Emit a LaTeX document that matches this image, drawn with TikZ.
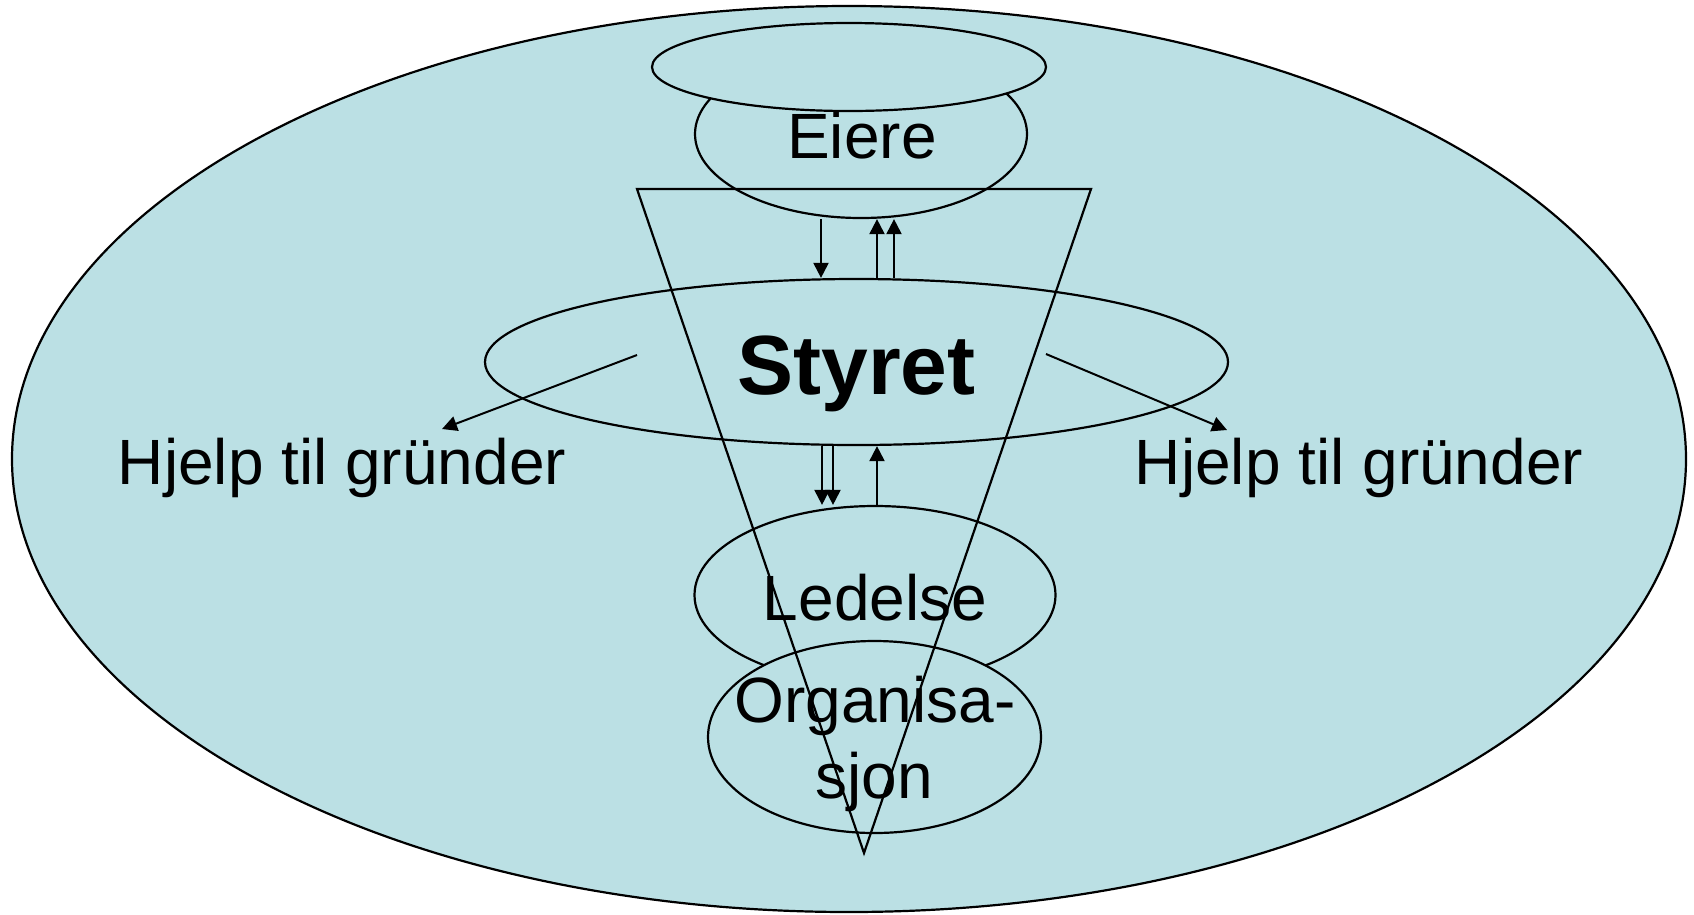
\documentclass[tikz,border=0pt]{standalone}
\usepackage{fontspec}
\setmainfont{Liberation Sans}
\usetikzlibrary{shapes.geometric,arrows.meta}
\definecolor{bluefill}{RGB}{187,224,228}
\tikzset{
  oval/.style={ellipse, draw=black, line width=2.2pt, fill=bluefill, inner sep=0pt},
  arr/.style={line width=2pt, -{Triangle[length=15pt,width=15pt]}},
  lbl/.style={anchor=base, inner sep=0pt, font=\fontsize{64}{76}\selectfont},
  big/.style={anchor=base, inner sep=0pt, font=\fontsize{84}{100}\selectfont\bfseries},
}
\begin{document}
\begin{tikzpicture}[x=1pt,y=-1pt]
\useasboundingbox (0,0) rectangle (1694,914);
% outer ellipse
\node[oval, minimum width=1674pt, minimum height=906pt] (outer) at (849,459) {};
% Eiere, then top ellipse over it
\node[oval, minimum width=332pt, minimum height=168pt] (eiere) at (861,134) {};
\node[oval, minimum width=394pt, minimum height=88pt] (topov) at (849,67) {};
% Styret
\node[oval, minimum width=743pt, minimum height=166pt] (styret) at (856.5,362) {};
% Ledelse and Organisasjon
\node[oval, minimum width=361pt, minimum height=178pt] (ledelse) at (875,595) {};
\node[oval, minimum width=333pt, minimum height=192pt] (org) at (874.5,737) {};
% triangle
\coordinate (tl) at (637,189);
\coordinate (tr) at (1091,189);
\coordinate (tb) at (864,853);
\draw[line width=2.2pt, line join=miter] (tl) -- (tr) -- (tb) -- cycle;
% vertical arrows
\draw[arr] (eiere.south -| 821,0) -- (styret.north -| 821,0);
\draw[arr] (styret.north -| 877,0) -- (eiere.south -| 877,0);
\draw[arr] (styret.north -| 894,0) -- (eiere.south -| 894,0);
\draw[arr] (styret.south -| 822,0) -- (ledelse.north -| 822,0);
\draw[arr] (styret.south -| 833,0) -- (ledelse.north -| 833,0);
\draw[arr] (ledelse.north -| 877,0) -- (styret.south -| 877,0);
% side arrows
\coordinate (ls) at (637,355);
\coordinate (lt) at (442,429);
\coordinate (rs) at (1046,354);
\coordinate (rt) at (1227,430);
\draw[arr] (ls) -- (lt);
\draw[arr] (rs) -- (rt);
% texts
\node[lbl] (teiere) at (862,158) {Eiere};
\node[big] (tstyret) at (856.5,394) {Styret};
\node[lbl] (thl) at (342,484) {Hjelp til gründer};
\node[lbl] (thr) at (1359,484) {Hjelp til gründer};
\node[lbl] (tled) at (875,620) {Ledelse};
\node[lbl] (torg1) at (875,722) {Organisa-};
\node[lbl] (torg2) at (874,798) {sjon};
\end{tikzpicture}
\end{document}
